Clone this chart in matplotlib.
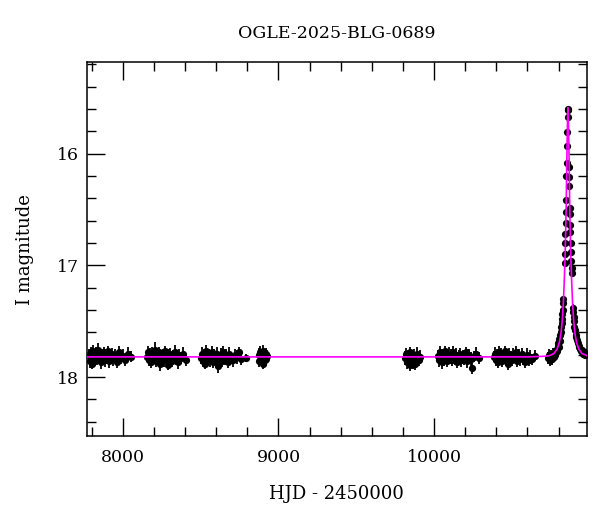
import numpy as np
import matplotlib
matplotlib.use("Agg")
import matplotlib.pyplot as plt
from matplotlib.ticker import MultipleLocator

#DATA
title = "OGLE-2025-BLG-0689"

hjd = [
    # season 1
    7782, 7788, 7794, 7799, 7805, 7811, 7818, 7824, 7830, 7837, 7843, 7850, 7857, 7864, 7871, 7879,
    7887, 7895, 7903, 7912, 7921, 7930, 7940, 7950, 7961, 7973, 7986, 8000, 8016, 8033, 8052,
    # season 2
    8157, 8163, 8170, 8176, 8183, 8190, 8197, 8204, 8211, 8219, 8226, 8234, 8241, 8249, 8257,
    8265, 8273, 8281, 8289, 8297, 8306, 8315, 8324, 8333, 8343, 8353, 8364, 8376, 8389, 8403,
    # season 3
    8502, 8509, 8516, 8523, 8530, 8537, 8544, 8551, 8558, 8566, 8573, 8581, 8588, 8596, 8604, 8612,
    8620, 8628, 8637, 8646, 8655, 8664, 8674, 8684, 8695, 8706, 8718, 8731, 8745, 8762, 8790,
    # season 4
    8872, 8878, 8883, 8888, 8893, 8898, 8903, 8908, 8913, 8918, 8923, 8929,
    # season 5
    9812, 9818, 9824, 9830, 9836, 9842, 9848, 9854, 9860, 9866, 9872, 9879, 9886, 9893, 9901, 9910,
    # season 6
    10022, 10029, 10036, 10043, 10050, 10057, 10064, 10071, 10078, 10086, 10093, 10101, 10108, 10116,
    10124, 10132, 10140, 10148, 10157, 10166, 10175, 10184, 10194, 10204, 10214, 10225, 10236, 10246,
    10258, 10272, 10288,
    # season 7
    10382, 10389, 10396, 10403, 10410, 10417, 10424, 10431, 10438, 10446, 10453, 10461, 10468, 10476,
    10484, 10492, 10500, 10508, 10517, 10526, 10535, 10544, 10554, 10564, 10574, 10585, 10596, 10607,
    10619, 10632, 10648,
    # season 8 (event)
    10732, 10738, 10744, 10750, 10756, 10762, 10768, 10774, 10780, 10786, 10791, 10795,
    10799, 10802, 10805, 10808, 10811, 10814, 10817, 10820, 10822, 10824, 10826, 10828, 10830,
    10838, 10840, 10842, 10844, 10846, 10847, 10848, 10850, 10853, 10855, 10856, 10859, 10861, 10862,
    10867, 10868, 10869, 10871, 10872, 10874, 10876, 10878, 10880, 10882, 10884, 10886,
    10892, 10894, 10896, 10898, 10901, 10905, 10909, 10913, 10918, 10923, 10928, 10934, 10940,
    10946, 10952, 10958, 10964, 10970, 10976,
]

mag = [
    17.80, 17.86, 17.78, 17.83, 17.88, 17.77, 17.82, 17.85, 17.79, 17.84, 17.76, 17.81, 17.87, 17.80, 17.83, 17.78,
    17.85, 17.81, 17.77, 17.86, 17.82, 17.79, 17.84, 17.80, 17.87, 17.78, 17.83, 17.81, 17.85, 17.79, 17.82,
    17.82, 17.78, 17.85, 17.80, 17.87, 17.79, 17.83, 17.76, 17.86, 17.81, 17.84, 17.78, 17.88, 17.82, 17.80,
    17.85, 17.77, 17.83, 17.89, 17.81, 17.79, 17.86, 17.82, 17.78, 17.84, 17.87, 17.80, 17.83, 17.79, 17.85,
    17.83, 17.79, 17.86, 17.81, 17.88, 17.77, 17.84, 17.80, 17.85, 17.82, 17.78, 17.87, 17.81, 17.84, 17.79, 17.90,
    17.83, 17.80, 17.86, 17.78, 17.84, 17.81, 17.87, 17.79, 17.83, 17.85, 17.80, 17.82, 17.78, 17.84, 17.83,
    17.80, 17.86, 17.78, 17.84, 17.82, 17.88, 17.77, 17.83, 17.85, 17.79, 17.84, 17.81,
    17.83, 17.79, 17.87, 17.81, 17.85, 17.89, 17.78, 17.84, 17.82, 17.86, 17.80, 17.88, 17.83, 17.79, 17.85, 17.82,
    17.81, 17.85, 17.78, 17.83, 17.87, 17.80, 17.84, 17.77, 17.82, 17.86, 17.79, 17.83, 17.81, 17.85,
    17.78, 17.84, 17.80, 17.87, 17.82, 17.79, 17.85, 17.81, 17.83, 17.78, 17.86, 17.80, 17.84, 17.92,
    17.82, 17.79, 17.83,
    17.82, 17.79, 17.85, 17.81, 17.87, 17.78, 17.83, 17.80, 17.86, 17.82, 17.77, 17.84, 17.81, 17.88,
    17.79, 17.83, 17.85, 17.80, 17.82, 17.78, 17.86, 17.81, 17.84, 17.79, 17.83, 17.87, 17.80, 17.85,
    17.82, 17.84, 17.81,
    17.83, 17.80, 17.85, 17.81, 17.84, 17.79, 17.82, 17.80, 17.78, 17.76, 17.77, 17.72,
    17.70, 17.73, 17.66, 17.68, 17.62, 17.60, 17.55, 17.52, 17.48, 17.44, 17.40, 17.34, 17.30,
    16.98, 16.90, 16.80, 16.72, 16.62, 16.52, 16.42, 16.20, 16.08, 15.93, 15.81, 15.67, 15.60, 15.61,
    16.12, 16.21, 16.29, 16.49, 16.54, 16.64, 16.70, 16.80, 16.88, 16.96, 17.02, 17.07,
    17.38, 17.42, 17.46, 17.50, 17.55, 17.58, 17.62, 17.64, 17.67, 17.70, 17.72, 17.73, 17.75,
    17.77, 17.76, 17.79, 17.78, 17.80, 17.79,
]

err = [
    0.05, 0.06, 0.05, 0.06, 0.05, 0.06, 0.05, 0.05, 0.06, 0.05, 0.06, 0.05, 0.06, 0.05, 0.06, 0.05,
    0.06, 0.05, 0.05, 0.06, 0.06, 0.05, 0.06, 0.05, 0.05, 0.06, 0.05, 0.06, 0.05, 0.06, 0.05,
    0.05, 0.06, 0.05, 0.06, 0.05, 0.06, 0.05, 0.07, 0.05, 0.06, 0.05, 0.05, 0.07, 0.06, 0.05,
    0.06, 0.05, 0.06, 0.05, 0.06, 0.05, 0.05, 0.06, 0.07, 0.05, 0.06, 0.05, 0.05, 0.06, 0.05,
    0.05, 0.06, 0.05, 0.06, 0.05, 0.06, 0.07, 0.05, 0.06, 0.05, 0.06, 0.05, 0.06, 0.05, 0.06, 0.06,
    0.05, 0.06, 0.05, 0.06, 0.05, 0.06, 0.05, 0.06, 0.05, 0.06, 0.05, 0.06, 0.05, 0.05, 0.04,
    0.06, 0.05, 0.06, 0.05, 0.06, 0.05, 0.06, 0.05, 0.06, 0.05, 0.06, 0.05,
    0.06, 0.05, 0.06, 0.05, 0.06, 0.06, 0.05, 0.06, 0.05, 0.07, 0.05, 0.06, 0.05, 0.06, 0.05, 0.06,
    0.05, 0.06, 0.06, 0.05, 0.06, 0.05, 0.06, 0.05, 0.06, 0.05, 0.06, 0.05, 0.06, 0.05,
    0.06, 0.05, 0.06, 0.05, 0.06, 0.05, 0.06, 0.05, 0.06, 0.05, 0.06, 0.05, 0.06, 0.05,
    0.05, 0.06, 0.05,
    0.05, 0.06, 0.05, 0.06, 0.05, 0.06, 0.05, 0.06, 0.05, 0.06, 0.05, 0.06, 0.05, 0.06,
    0.05, 0.06, 0.05, 0.06, 0.05, 0.06, 0.05, 0.06, 0.06, 0.05, 0.06, 0.05, 0.06, 0.05,
    0.06, 0.05, 0.05,
    0.05, 0.05, 0.05, 0.05, 0.05, 0.05, 0.05, 0.05, 0.04, 0.04, 0.04, 0.04,
    0.04, 0.04, 0.03, 0.03, 0.03, 0.03, 0.03, 0.03, 0.03, 0.03, 0.02, 0.02, 0.02,
    0.02, 0.02, 0.02, 0.02, 0.02, 0.02, 0.02, 0.01, 0.01, 0.01, 0.01, 0.01, 0.01, 0.01,
    0.01, 0.01, 0.02, 0.02, 0.02, 0.02, 0.02, 0.02, 0.02, 0.02, 0.02, 0.02,
    0.03, 0.03, 0.03, 0.03, 0.03, 0.03, 0.03, 0.03, 0.03, 0.03, 0.03, 0.04, 0.04,
    0.04, 0.04, 0.04, 0.04, 0.04, 0.04,
]

# microlensing model curve
model_hjd = [7770, 10600, 10700, 10740, 10770, 10790, 10805, 10815, 10823, 10830, 10836, 10841,
             10845, 10848, 10850, 10852, 10854, 10856, 10858, 10860, 10862, 10864, 10866,
             10868, 10870, 10872, 10875, 10879, 10884, 10890, 10897, 10905, 10915, 10930,
             10950, 10985]
model_mag = [17.82, 17.82, 17.815, 17.81, 17.79, 17.75, 17.69, 17.61, 17.50, 17.35, 17.15, 16.95,
             16.72, 16.52, 16.33, 16.12, 15.95, 15.78, 15.65, 15.59, 15.65, 15.78, 15.95,
             16.12, 16.33, 16.52, 16.72, 16.95, 17.15, 17.35, 17.50, 17.61, 17.69, 17.75,
             17.79, 17.81]

#PLOT
plt.rcParams['font.family'] = ['DejaVu Serif']
fig = plt.figure(figsize=(6.0, 5.12), dpi=100)
ax = fig.add_axes([0.145, 0.148, 0.833, 0.731])

ax.errorbar(hjd, mag, yerr=err, fmt='o', color='black', ms=5.2, mew=0,
            elinewidth=1.3, capsize=2.4, capthick=1.0, zorder=2)
ax.plot(model_hjd, model_mag, color='#ff00ff', lw=1.2, zorder=3)

ax.set_xlim(7770, 10981)
ax.set_ylim(18.53, 15.18)
ax.xaxis.set_major_locator(MultipleLocator(1000))
ax.xaxis.set_minor_locator(MultipleLocator(200))
ax.yaxis.set_major_locator(MultipleLocator(1))
ax.yaxis.set_minor_locator(MultipleLocator(0.2))
ax.tick_params(which='both', direction='in', top=True, right=True, width=1.0)
ax.tick_params(which='major', length=13, labelsize=12.5)
ax.tick_params(which='minor', length=6.5)
ax.tick_params(axis='x', which='major', pad=9)
ax.tick_params(axis='y', which='major', pad=6)
for s in ax.spines.values():
    s.set_linewidth(1.1)

ax.set_xlabel("HJD - 2450000", fontsize=13, labelpad=14)
ax.set_ylabel("I magnitude", fontsize=13, labelpad=16)
ax.set_title(title, fontsize=12.5, pad=17)

fig.savefig("out.png", dpi=100)
